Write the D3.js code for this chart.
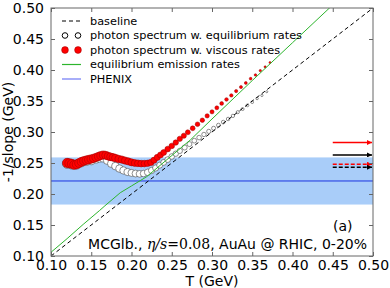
<!DOCTYPE html>
<html>
<head>
<meta charset="utf-8">
<script src="https://cdn.jsdelivr.net/npm/d3@7"></script>
<style>
body { margin: 0; background: #fff; }
text { font-family: "DejaVu Sans", sans-serif; }
</style>
</head>
<body>
<div id="chart"></div>
<script>
var xTicks = [0.10, 0.15, 0.20, 0.25, 0.30, 0.35, 0.40, 0.45, 0.50];
var yTicks = [0.10, 0.15, 0.20, 0.25, 0.30, 0.35, 0.40, 0.45, 0.50];

var baselineT = [0.10, 0.50];
var baselineV = [0.10, 0.50];

var greenT = [0.10, 0.12, 0.14, 0.16, 0.167, 0.186, 0.20, 0.219, 0.25, 0.273, 0.30, 0.35, 0.40, 0.45];
var greenV = [0.106, 0.128, 0.151, 0.173, 0.181, 0.202, 0.213, 0.228, 0.262, 0.287, 0.321, 0.383, 0.444, 0.505];

var viscT = [0.120, 0.123, 0.126, 0.129, 0.132, 0.135, 0.138, 0.141, 0.144, 0.147, 0.150, 0.153, 0.156, 0.159,
  0.162, 0.165, 0.168, 0.171, 0.174, 0.177, 0.180, 0.184, 0.188, 0.192, 0.196, 0.200, 0.204, 0.208, 0.212,
  0.216, 0.220, 0.224, 0.228, 0.232, 0.236, 0.240, 0.245, 0.250, 0.255, 0.260, 0.265, 0.270, 0.276, 0.282,
  0.288, 0.294, 0.300, 0.306, 0.312, 0.318, 0.324, 0.330, 0.336, 0.342, 0.348, 0.354, 0.360, 0.366, 0.372];
var viscV = [0.250, 0.2495, 0.2485, 0.247, 0.248, 0.250, 0.252, 0.2535, 0.2545, 0.2555, 0.2565, 0.2575, 0.259, 0.2605,
  0.262, 0.263, 0.2625, 0.261, 0.260, 0.259, 0.258, 0.2565, 0.2555, 0.254, 0.2525, 0.251, 0.250, 0.2495, 0.249,
  0.249, 0.2495, 0.251, 0.2545, 0.259, 0.263, 0.267, 0.2725, 0.2775, 0.283, 0.289, 0.294, 0.2995, 0.306, 0.3125,
  0.319, 0.326, 0.3325, 0.339, 0.346, 0.3525, 0.359, 0.366, 0.3725, 0.379, 0.386, 0.392, 0.399, 0.405, 0.412];

var eqT = [0.120, 0.126, 0.132, 0.138, 0.144, 0.150, 0.156, 0.160, 0.165, 0.170, 0.175, 0.180, 0.185, 0.190,
  0.195, 0.200, 0.205, 0.210, 0.215, 0.220, 0.225, 0.230, 0.235, 0.240, 0.245, 0.250, 0.255, 0.260, 0.266,
  0.272, 0.278, 0.284, 0.290, 0.296, 0.302, 0.308, 0.314, 0.320, 0.326, 0.332, 0.338, 0.344, 0.350, 0.356,
  0.362, 0.368];
var eqV = [0.249, 0.2475, 0.2475, 0.251, 0.253, 0.254, 0.2565, 0.258, 0.258, 0.254, 0.249, 0.245, 0.241, 0.238,
  0.2355, 0.234, 0.233, 0.2325, 0.233, 0.235, 0.238, 0.242, 0.2465, 0.251, 0.2555, 0.2605, 0.265, 0.2695, 0.275,
  0.2805, 0.286, 0.291, 0.296, 0.301, 0.306, 0.311, 0.316, 0.321, 0.326, 0.332, 0.337, 0.343, 0.348, 0.354,
  0.359, 0.365];

var phenixV = 0.221;
var phenixLow = 0.183;
var phenixHigh = 0.259;

var arrowStart = 0.45;
var arrowEnd = 0.50;
var arrowV = [0.283, 0.263, 0.248, 0.243];

var legendLabels = ["baseline", "photon spectrum w. equilibrium rates", "photon spectrum w. viscous rates",
  "equilibrium emission rates", "PHENIX"];

var width = 390, height = 288;
var margin = {top: 8, right: 17, bottom: 32, left: 51};

var svg = d3.select("#chart").append("svg")
  .attr("width", width)
  .attr("height", height);

var x = d3.scaleLinear().domain([0.10, 0.50]).range([margin.left, width - margin.right]);
var y = d3.scaleLinear().domain([0.10, 0.50]).range([height - margin.bottom, margin.top]);
var rScale = d3.scaleLinear().domain([0.12, 0.372]).range([4.7, 1.0]);

svg.append("clipPath").attr("id", "clip").append("rect")
  .attr("x", margin.left).attr("y", margin.top)
  .attr("width", width - margin.left - margin.right)
  .attr("height", height - margin.top - margin.bottom);

var plot = svg.append("g").attr("clip-path", "url(#clip)");

// PHENIX band and line
plot.append("rect")
  .attr("x", x(0.10)).attr("width", x(0.50) - x(0.10))
  .attr("y", y(phenixHigh)).attr("height", y(phenixLow) - y(phenixHigh))
  .attr("fill", "#a9cdf9");
plot.append("line")
  .attr("x1", x(0.10)).attr("x2", x(0.50))
  .attr("y1", y(phenixV)).attr("y2", y(phenixV))
  .attr("stroke", "#1c34e0").attr("stroke-width", 1);

plot.selectAll("circle.eq").data(eqT).enter().append("circle")
  .attr("class", "eq")
  .attr("cx", function(d) { return x(d); })
  .attr("cy", function(d, i) { return y(eqV[i]); })
  .attr("r", function(d) { return rScale(d); })
  .attr("fill", "#fff").attr("stroke", "#444").attr("stroke-width", 0.6);

plot.selectAll("circle.visc").data(viscT).enter().append("circle")
  .attr("class", "visc")
  .attr("cx", function(d) { return x(d); })
  .attr("cy", function(d, i) { return y(viscV[i]); })
  .attr("r", function(d) { return rScale(d); })
  .attr("fill", "#ff0000").attr("stroke", "#900").attr("stroke-width", 0.5);

var line = d3.line();

plot.append("path")
  .attr("d", line(baselineT.map(function(d, i) { return [x(d), y(baselineV[i])]; })))
  .attr("fill", "none").attr("stroke", "#000").attr("stroke-width", 1)
  .attr("stroke-dasharray", "4,3");

plot.append("path")
  .attr("d", line(greenT.map(function(d, i) { return [x(d), y(greenV[i])]; })))
  .attr("fill", "none").attr("stroke", "#2db52d").attr("stroke-width", 1);

// arrows on the right
var arrowColors = ["#ff0000", "#000", "#ff0000", "#000"];
var arrowDash = [null, null, "4,2", "4,2"];
var defs = svg.append("defs");
["red", "black"].forEach(function(c) {
  defs.append("marker")
    .attr("id", "head-" + c)
    .attr("viewBox", "0 0 10 10").attr("refX", 10).attr("refY", 5)
    .attr("markerWidth", 7).attr("markerHeight", 5).attr("markerUnits", "userSpaceOnUse")
    .attr("orient", "auto")
    .append("path").attr("d", "M0,0L10,5L0,10Z")
    .attr("fill", c == "red" ? "#ff0000" : "#000");
});
svg.selectAll("line.arrow").data(arrowV).enter().append("line")
  .attr("class", "arrow")
  .attr("x1", x(arrowStart)).attr("x2", x(arrowEnd) - 1)
  .attr("y1", function(d) { return y(d); }).attr("y2", function(d) { return y(d); })
  .attr("stroke", function(d, i) { return arrowColors[i]; })
  .attr("stroke-width", 1.5)
  .attr("stroke-dasharray", function(d, i) { return arrowDash[i]; })
  .attr("marker-end", function(d, i) { return i % 2 == 0 ? "url(#head-red)" : "url(#head-black)"; });

// frame and ticks
svg.append("rect")
  .attr("x", margin.left).attr("y", margin.top)
  .attr("width", width - margin.left - margin.right)
  .attr("height", height - margin.top - margin.bottom)
  .attr("fill", "none").attr("stroke", "#666").attr("stroke-width", 1);

var axisBottom = d3.axisBottom(x).tickValues(xTicks).tickSize(-4).tickPadding(4).tickFormat(d3.format(".2f"));
var axisTop = d3.axisTop(x).tickValues(xTicks).tickSize(-4).tickFormat("");
var axisLeft = d3.axisLeft(y).tickValues(yTicks).tickSize(-4).tickPadding(7).tickFormat(d3.format(".2f"));
var axisRight = d3.axisRight(y).tickValues(yTicks).tickSize(-4).tickFormat("");

function styleAxis(g) {
  g.select(".domain").remove();
  g.selectAll("line").attr("stroke", "#666");
  g.selectAll("text").attr("font-size", 14).attr("fill", "#000")
    .attr("font-family", "DejaVu Sans");
}
svg.append("g").attr("transform", "translate(0," + y(0.10) + ")").call(axisBottom).call(styleAxis);
svg.append("g").attr("transform", "translate(0," + y(0.50) + ")").call(axisTop).call(styleAxis);
svg.append("g").attr("transform", "translate(" + x(0.10) + ",0)").call(axisLeft).call(styleAxis);
svg.append("g").attr("transform", "translate(" + x(0.50) + ",0)").call(axisRight).call(styleAxis);

svg.append("text")
  .attr("x", (x(0.10) + x(0.50)) / 2).attr("y", 286)
  .attr("text-anchor", "middle").attr("font-size", 14)
  .text("T (GeV)");
svg.append("text")
  .attr("transform", "translate(13," + (y(0.30)) + ") rotate(-90)")
  .attr("text-anchor", "middle").attr("font-size", 14)
  .text("-1/slope (GeV)");

// legend
var legend = svg.append("g");
legendLabels.forEach(function(lab, i) {
  var ly = 21 + i * 14.5;
  legend.append("text")
    .attr("x", 90).attr("y", ly).attr("dy", "0.35em")
    .attr("font-size", 11.3).text(lab);
  if (i == 0) {
    legend.append("line").attr("x1", 62).attr("x2", 81).attr("y1", ly).attr("y2", ly)
      .attr("stroke", "#000").attr("stroke-dasharray", "4,3");
  } else if (i == 1 || i == 2) {
    [65, 78].forEach(function(cx) {
      legend.append("circle").attr("cx", cx).attr("cy", ly).attr("r", i == 1 ? 2.8 : 3.4)
        .attr("fill", i == 1 ? "#fff" : "#ff0000")
        .attr("stroke", i == 1 ? "#000" : "#900").attr("stroke-width", i == 1 ? 1 : 0.5);
    });
  } else {
    legend.append("line").attr("x1", 62).attr("x2", 81).attr("y1", ly).attr("y2", ly)
      .attr("stroke", i == 3 ? "#2db52d" : "#6e78f5").attr("stroke-width", 1.2);
  }
});

svg.append("text")
  .attr("x", 333).attr("y", 231).attr("font-size", 14).text("(a)");

var note = svg.append("text")
  .attr("x", 367).attr("y", 249).attr("text-anchor", "end").attr("font-size", 14);
note.append("tspan").text("MCGlb., ");
note.append("tspan").attr("font-family", "DejaVu Serif").attr("font-style", "italic").text("η/s");
note.append("tspan").attr("font-family", "DejaVu Serif").text("=0.08");
note.append("tspan").text(", AuAu @ RHIC, 0-20%");
</script>
</body>
</html>
